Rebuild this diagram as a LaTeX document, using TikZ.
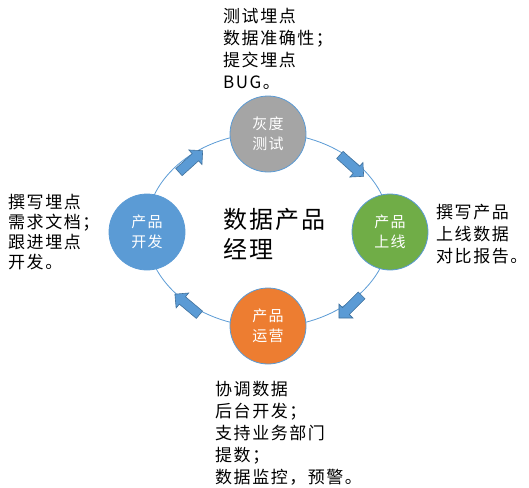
\documentclass[tikz,border=0pt]{standalone}
\usepackage{fontspec}
\setmainfont[LetterSpace=9]{Noto Sans CJK SC}
\usetikzlibrary{shapes.arrows}
\definecolor{ringline}{HTML}{5B9BD5}
\definecolor{arrowfill}{HTML}{5B9BD5}
\definecolor{arrowedge}{HTML}{41719C}
\definecolor{testgray}{HTML}{A5A5A5}
\definecolor{launchgreen}{HTML}{70AD47}
\definecolor{opsorange}{HTML}{ED7D31}
\definecolor{devblue}{HTML}{5B9BD5}
\begin{document}
\begin{tikzpicture}[x=1pt,y=-1pt,
  phase/.style={circle,draw=ringline,line width=0.8pt,minimum size=76pt,inner sep=0pt,
    text=white,align=center,font=\fontsize{15}{20}\selectfont},
  flow/.style={single arrow,draw=arrowedge,fill=arrowfill,line width=0.6pt,
    minimum height=32pt,inner sep=4.5pt,single arrow head extend=5pt},
  note/.style={anchor=north west,align=left,inner sep=0pt,font=\fontsize{17}{22}\selectfont}]
\useasboundingbox (0,0) rectangle (529,487);
% ring
\coordinate (ring) at (268,230);
\draw[ringline,line width=0.8pt] (ring) ellipse [x radius=122,y radius=97];
% arrows on the ring
\node[flow,rotate=-42] (a1) at (350,164) {};
\node[flow,rotate=225] (a2) at (352,305) {};
\node[flow,rotate=140] (a3) at (189,306) {};
\node[flow,rotate=42]  (a4) at (189,163) {};
% the four phases
\node[phase,fill=testgray]    (test)   at (268,134) {灰度\\测试};
\node[phase,fill=launchgreen] (launch) at (390,232) {产品\\上线};
\node[phase,fill=opsorange]   (ops)    at (268,326) {产品\\运营};
\node[phase,fill=devblue]     (dev)    at (147,232) {产品\\开发};
% center
\node[note,font=\fontsize{24}{30}\selectfont] (role) at (223,208) {数据产品\\经理};
% notes
\node[note] (testnote)   at (223,8)   {测试埋点\\数据准确性；\\提交埋点\\BUG。};
\node[note] (launchnote) at (436,204) {撰写产品\\上线数据\\对比报告。};
\node[note,font=\fontsize{17}{20}\selectfont] (devnote) at (8,194) {撰写埋点\\需求文档；\\跟进埋点\\开发。};
\node[note] (opsnote)    at (215,381) {协调数据\\后台开发；\\支持业务部门\\提数；\\数据监控，预警。};
\end{tikzpicture}
\end{document}
